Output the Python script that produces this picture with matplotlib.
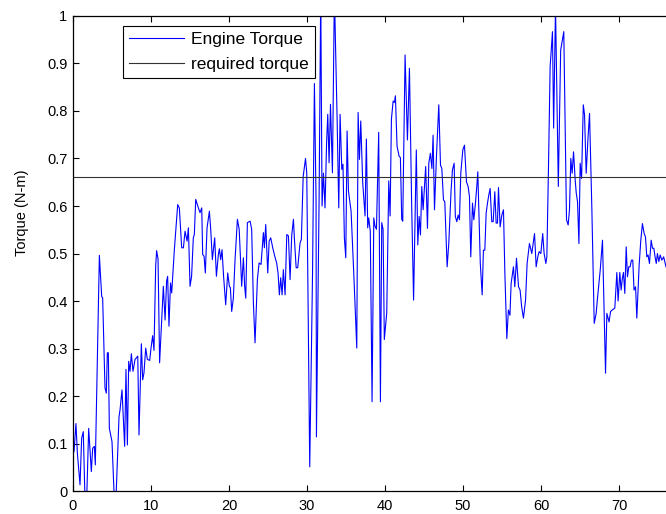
"""engine torque against the required torque"""
import matplotlib
matplotlib.use("Agg")
from matplotlib import pyplot as plt

# time axis (vertices) and engine torque at each vertex
t = [0.0, 0.13, 0.38, 0.56, 0.9, 1.11, 1.32, 1.54, 1.75, 2.01, 2.35, 2.52, 2.74, 2.86,
     3.38, 3.68, 3.8, 4.1, 4.27, 4.4, 4.53, 4.66, 5.0, 5.3, 5.5, 5.9, 6.03, 6.28,
     6.62, 6.79, 6.97, 7.14, 7.31, 7.48, 7.69, 7.95, 8.3, 8.46, 8.76, 8.93, 9.1,
     9.32, 9.53, 9.83, 10.0, 10.21, 10.38, 10.6, 10.72, 10.9,
     11.1, 11.58, 11.8, 12.0, 12.13, 12.3, 12.5, 12.65, 12.99, 13.42, 13.63, 13.93,
     14.15, 14.36, 14.62, 14.79, 15.0, 15.2, 15.42, 15.55, 15.73, 16.07, 16.28, 16.5,
     16.62, 16.8, 16.96, 17.18, 17.48, 17.65, 17.86, 18.16, 18.38, 18.63, 18.76,
     18.93, 19.1, 19.3, 19.57, 19.83, 20.04, 20.17, 20.34, 20.55, 20.77, 21.07, 21.3,
     21.62, 21.84, 22.0, 22.14, 22.35, 22.7, 22.9, 23.12, 23.33, 23.63, 23.85, 24.1,
     24.4, 24.53, 24.7, 24.83, 24.96, 25.14, 25.34, 25.6, 25.86, 26.1, 26.28, 26.45,
     26.62, 26.8, 26.96, 27.18, 27.4, 27.61, 27.82, 28.03, 28.25, 28.38, 28.6, 28.8,
     29.1, 29.27, 29.5, 29.8, 29.96, 30.34, 30.7, 30.94, 31.15, 31.2, 31.54, 31.75,
     31.92, 32.1, 32.3,
     32.5, 32.65, 32.82, 33.0, 33.25, 33.5, 33.85, 34.06, 34.23, 34.45, 34.6, 34.78,
     34.96, 35.13, 35.3, 35.64, 36.0, 36.37, 36.54, 36.71, 36.88, 37.13, 37.43, 37.6,
     37.77, 37.9, 38.1, 38.33, 38.55, 38.7, 38.89, 39.18, 39.4, 39.57, 39.74, 39.9,
     40.21, 40.47, 40.64, 40.81, 41.03, 41.2, 41.32, 41.53, 41.79, 41.96, 42.13,
     42.26, 42.56, 42.86, 43.12, 43.4,
     43.65, 44.0, 44.19, 44.36, 44.53, 44.7, 44.87, 45.2, 45.43, 45.6, 45.8, 46.0,
     46.15, 46.33, 46.58, 46.88, 47.1, 47.27, 47.48, 47.65, 47.95, 48.16, 48.46,
     48.63, 48.85, 49.0, 49.19, 49.36, 49.53, 49.7, 49.96, 50.17, 50.43, 50.64,
     50.81, 50.98, 51.2, 51.37, 51.58, 51.75, 51.88, 52.1, 52.2, 52.44, 52.6, 52.78,
     52.95, 53.12, 53.29,
     53.46, 53.67, 53.85, 54.06, 54.23, 54.4, 54.53, 54.74, 54.96, 55.17, 55.35,
     55.6, 55.8, 56.0, 56.15, 56.45, 56.62, 56.84, 57.1, 57.3, 57.5, 57.73, 58.0,
     58.2, 58.5, 58.8, 59.15, 59.36, 59.57, 59.74, 59.96, 60.2, 60.38, 60.6, 60.73,
     60.94, 61.15, 61.45, 61.6, 61.84, 62.2, 62.5, 62.9, 63.25, 63.46, 63.63, 63.8,
     63.97, 64.15, 64.36, 64.5, 64.66, 64.84, 65.0, 65.18, 65.4, 65.56, 65.77, 66.0,
     66.2, 66.5, 66.8, 67.05, 67.22, 67.57, 67.86, 68.25, 68.42, 68.7, 68.9, 69.1,
     69.44, 69.7, 69.86, 70.08, 70.25, 70.4, 70.55, 70.72, 70.9, 71.06, 71.23, 71.4,
     71.57, 71.74, 71.9, 72.1, 72.26, 72.56, 72.77, 72.98, 73.2, 73.37, 73.54, 73.7,
     73.88, 74.1, 74.27, 74.44, 74.6, 74.75, 74.9, 75.08, 75.25, 75.46, 75.7, 76.0]

torque = [0.08, 0.083, 0.142, 0.08, 0.013, 0.111, 0.125, -0.02, -0.02, 0.132, 0.041,
          0.09, 0.094, 0.055, 0.496, 0.409, 0.407, 0.217, 0.206, 0.291, 0.291, 0.132,
          0.104, -0.02, -0.02, 0.157, 0.171, 0.213, 0.094, 0.256, 0.097, 0.273, 0.252,
          0.289, 0.252, 0.277, 0.284, 0.118, 0.31, 0.234, 0.249, 0.301, 0.277, 0.275,
          0.301, 0.327, 0.296, 0.475, 0.506, 0.488,
          0.27, 0.431, 0.36, 0.442, 0.452, 0.347, 0.438, 0.417, 0.508, 0.603, 0.596,
          0.512, 0.512, 0.547, 0.526, 0.554, 0.431, 0.452, 0.533, 0.54, 0.614, 0.596,
          0.586, 0.596, 0.498, 0.494, 0.459, 0.554, 0.589, 0.551, 0.487, 0.533, 0.452,
          0.498, 0.51, 0.487, 0.508, 0.452, 0.392, 0.459, 0.431, 0.428, 0.378, 0.406,
          0.487, 0.572, 0.551,
          0.431, 0.491, 0.431, 0.406, 0.565, 0.568, 0.551, 0.396, 0.312, 0.445, 0.48,
          0.477, 0.544, 0.512, 0.561, 0.508, 0.459, 0.526, 0.533, 0.512, 0.494, 0.48,
          0.459, 0.413, 0.449, 0.413, 0.466, 0.413, 0.54, 0.537, 0.445, 0.537, 0.572,
          0.53, 0.47, 0.47, 0.522, 0.53, 0.662, 0.70, 0.669, 0.051, 0.458, 0.858,
          0.613, 0.114, 0.613, 1.05, 0.6, 0.669, 0.596,
          0.733, 0.793, 0.691, 0.814, 0.67, 1.05, 0.783, 0.596, 0.793, 0.677, 0.688,
          0.533, 0.491, 0.758, 0.632, 0.589, 0.452, 0.301, 0.797, 0.698, 0.779, 0.649,
          0.579, 0.741, 0.554, 0.575, 0.547, 0.188, 0.575, 0.558, 0.551, 0.755, 0.188,
          0.565, 0.551, 0.319, 0.375, 0.653, 0.579, 0.783, 0.821, 0.818, 0.832, 0.726,
          0.705, 0.702, 0.572, 0.568, 0.918, 0.739, 0.89, 0.606,
          0.402, 0.718, 0.518, 0.578, 0.539, 0.641, 0.592, 0.683, 0.553, 0.69, 0.711,
          0.679, 0.749, 0.592, 0.704, 0.813, 0.686, 0.679, 0.613, 0.609, 0.472, 0.521,
          0.634, 0.676, 0.69, 0.578, 0.567, 0.581, 0.571, 0.669, 0.718, 0.728, 0.651,
          0.641, 0.62, 0.493, 0.606, 0.571, 0.606, 0.641, 0.672, 0.542, 0.479, 0.413,
          0.507, 0.507, 0.585, 0.606, 0.623,
          0.637, 0.567, 0.567, 0.63, 0.564, 0.564, 0.639, 0.556, 0.581, 0.592, 0.458,
          0.321, 0.381, 0.37, 0.437, 0.472, 0.43, 0.49, 0.43, 0.423, 0.388, 0.364,
          0.402, 0.479, 0.521, 0.5, 0.542, 0.472, 0.493, 0.504, 0.5, 0.542, 0.5, 0.479,
          0.493, 0.683, 0.893, 0.967, 0.764, 1.02, 0.641, 0.928, 0.967, 0.571, 0.56,
          0.592, 0.70, 0.669, 0.714, 0.655, 0.627, 0.609, 0.521, 0.69, 0.658, 0.813,
          0.792, 0.669, 0.742, 0.795, 0.592, 0.353, 0.374, 0.406, 0.465, 0.528, 0.248,
          0.374, 0.356, 0.378, 0.381, 0.385, 0.46, 0.4, 0.46, 0.423, 0.447, 0.46, 0.416,
          0.514, 0.451, 0.472, 0.472, 0.486, 0.486, 0.423, 0.43, 0.364, 0.476, 0.528,
          0.563, 0.542, 0.535, 0.493, 0.497, 0.479, 0.528, 0.511, 0.511, 0.493, 0.479,
          0.5, 0.483, 0.497, 0.486, 0.493, 0.472]

required = 0.66
x_ticks = [0, 10, 20, 30, 40, 50, 60, 70]
y_ticks = [0, 0.1, 0.2, 0.3, 0.4, 0.5, 0.6, 0.7, 0.8, 0.9, 1]
y_labels = ["0", "0.1", "0.2", "0.3", "0.4", "0.5", "0.6", "0.7", "0.8", "0.9", "1"]

plt.rcParams['font.family'] = ['Liberation Sans', 'DejaVu Sans']
plt.rcParams['font.size'] = 10.5

fig = plt.figure(figsize=(6.66, 5.14), dpi=100)
ax = fig.add_axes([0.1096, 0.0447, 0.8904, 0.9242])

ax.plot(t, torque, color=(0, 0, 1), linewidth=0.8, label="Engine Torque")
ax.axhline(y=required, color='#333333', linewidth=0.8, label="required torque")

ax.set_xlim(0, 76)
ax.set_ylim(0, 1)
ax.set_xticks(x_ticks)
ax.set_yticks(y_ticks)
ax.set_yticklabels(y_labels)
ax.tick_params(direction='in', top=True, right=False, length=4, width=0.8)
ax.tick_params(axis='x', pad=6)
ax.tick_params(axis='y', pad=4)
ax.spines['right'].set_visible(False)
for s in ['left', 'top', 'bottom']:
    ax.spines[s].set_linewidth(0.9)
ax.set_ylabel("Torque (N-m)")
ax.yaxis.set_label_coords(-0.075, 0.585)

leg = ax.legend(loc='upper left', bbox_to_anchor=(0.084, 0.979), borderaxespad=0,
                fancybox=False, framealpha=1, edgecolor='black', handlelength=3.2,
                borderpad=0.35, labelspacing=0.55, handletextpad=0.4, fontsize=12.5)
leg.get_frame().set_linewidth(0.8)

fig.savefig("out.png", dpi=100)
